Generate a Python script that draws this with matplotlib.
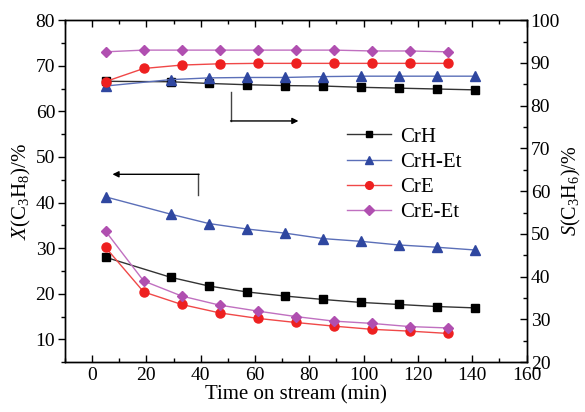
import matplotlib.pyplot as plt
from matplotlib.ticker import MultipleLocator

plt.rcParams['font.family'] = ['Liberation Serif', 'DejaVu Serif']
plt.rcParams['mathtext.fontset'] = 'custom'
plt.rcParams['mathtext.rm'] = 'Liberation Serif'
plt.rcParams['mathtext.it'] = 'Liberation Serif:italic'
plt.rcParams['font.size'] = 14

# time on stream (min)
t_h = [5, 29, 43, 57, 71, 85, 99, 113, 127, 141]
t_e = [5, 19, 33, 47, 61, 75, 89, 103, 117, 131]

# propane conversion X (%)
x_crh = [28.0, 23.6, 21.7, 20.4, 19.5, 18.75, 18.1, 17.65, 17.2, 16.9]
x_crh_et = [41.25, 37.45, 35.4, 34.2, 33.3, 32.1, 31.5, 30.7, 30.2, 29.6]
x_cre = [30.15, 20.4, 17.65, 15.8, 14.6, 13.7, 12.9, 12.2, 11.8, 11.3]
x_cre_et = [33.7, 22.8, 19.5, 17.5, 16.2, 15.0, 14.0, 13.5, 12.8, 12.5]

# propylene selectivity S (%)
s_crh = [85.7, 85.6, 85.2, 84.9, 84.7, 84.6, 84.3, 84.1, 83.9, 83.7]
s_crh_et = [84.6, 86.1, 86.5, 86.6, 86.6, 86.8, 86.9, 86.9, 86.9, 86.9]
s_cre = [85.65, 88.7, 89.5, 89.8, 89.9, 89.9, 89.9, 89.9, 89.9, 89.9]
s_cre_et = [92.6, 93.0, 93.0, 93.0, 93.0, 93.0, 93.0, 92.8, 92.8, 92.6]

series = [
    ('CrH', t_h, x_crh, s_crh, 's', '#000000', '#333333', 5.5),
    ('CrH-Et', t_h, x_crh_et, s_crh_et, '^', '#2f47a0', '#5b6fb8', 6.5),
    ('CrE', t_e, x_cre, s_cre, 'o', '#ee2020', '#f04848', 6.5),
    ('CrE-Et', t_e, x_cre_et, s_cre_et, 'D', '#b04fb0', '#c070c0', 5.5),
]

fig = plt.figure(figsize=(5.85, 4.12), dpi=100)
ax = fig.add_axes([0.111, 0.121, 0.789, 0.830])
ax2 = ax.twinx()

handles = []
for name, t, xv, sv, mk, mc, lc, ms in series:
    h, = ax.plot(t, xv, color=lc, lw=1.0, marker=mk, ms=ms,
                 mfc=mc, mec=mc, label=name)
    ax2.plot(t, sv, color=lc, lw=1.0, marker=mk, ms=ms, mfc=mc, mec=mc)
    handles.append(h)

ax.set_xlim(-10, 160)
ax.set_ylim(5, 80)
ax2.set_ylim(20, 100)

ax.xaxis.set_major_locator(MultipleLocator(20))
ax.xaxis.set_minor_locator(MultipleLocator(10))
ax.yaxis.set_major_locator(MultipleLocator(10))
ax.yaxis.set_minor_locator(MultipleLocator(5))
ax2.yaxis.set_major_locator(MultipleLocator(10))
ax2.yaxis.set_minor_locator(MultipleLocator(5))

ax.tick_params(axis='x', which='both', direction='in', top=True)
ax.tick_params(axis='y', which='both', direction='out', right=False, pad=2)
ax2.tick_params(axis='y', which='both', direction='in', pad=3)
for a in (ax, ax2):
    a.tick_params(which='major', length=5, width=1)
    a.tick_params(which='minor', length=3, width=1)
    for sp in a.spines.values():
        sp.set_linewidth(1)

ax.set_xlabel('Time on stream (min)', labelpad=1, fontsize=15)
ax.set_ylabel('$X$(C$_3$H$_8$)/%', labelpad=2, fontsize=15)
ax2.set_ylabel('$S$(C$_3$H$_6$)/%', labelpad=0, fontsize=14.5)

# arrows pointing to the axis each group belongs to
ax.plot([51.3, 51.3], [64.3, 57.9], color='#444444', lw=1)
ax.annotate('', xy=(76, 57.9), xytext=(51.0, 57.9),
            arrowprops=dict(arrowstyle='-|>', color='#000000', lw=1,
                            mutation_scale=9, shrinkA=0, shrinkB=0))
ax.plot([39.1, 39.1], [41.6, 46.2], color='#444444', lw=1)
ax.annotate('', xy=(7.5, 46.2), xytext=(39.4, 46.2),
            arrowprops=dict(arrowstyle='-|>', color='#000000', lw=1,
                            mutation_scale=9, shrinkA=0, shrinkB=0))

ax2.legend(handles, [h.get_label() for h in handles], loc='upper left',
           bbox_to_anchor=(0.593, 0.712), frameon=False, handlelength=2.1,
           handletextpad=0.45, labelspacing=0.27, borderaxespad=0,
           markerscale=0.85, fontsize=15)

fig.savefig('out.png', dpi=100)
